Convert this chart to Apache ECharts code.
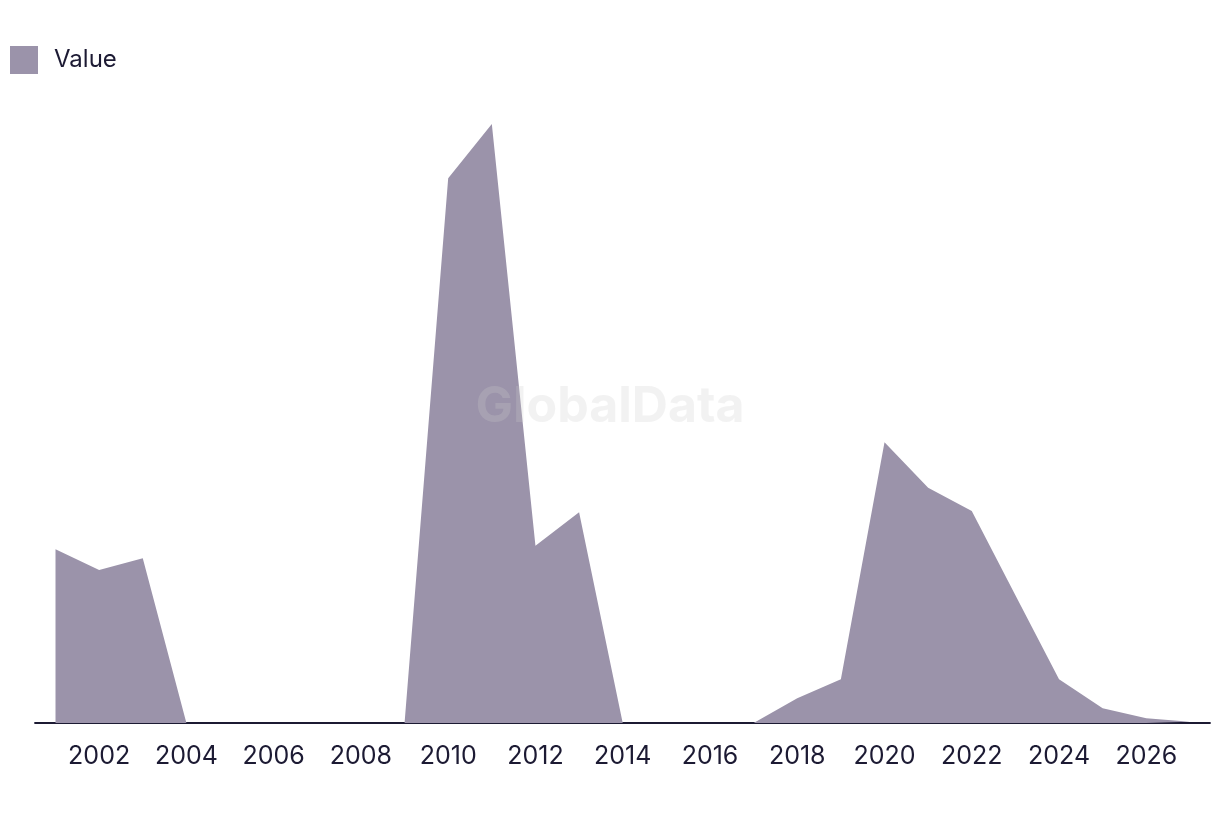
<!DOCTYPE html>
<html>
<head>
<meta charset="utf-8">
<script src="https://cdn.jsdelivr.net/npm/echarts@6/dist/echarts.min.js"></script>
<style>
html,body{margin:0;padding:0;background:#fff;}
#chart{width:1220px;height:816px;}
</style>
</head>
<body>
<div id="chart"></div>
<script>
const years = [2001,2002,2003,2004,2005,2006,2007,2008,2009,2010,2011,2012,2013,2014,2015,2016,2017,2018,2019,2020,2021,2022,2023,2024,2025,2026,2027];
const values = [28.95,25.5,27.45,0,0,0,0,0,0,90.78,99.83,29.55,35.12,0,0,0,0,4.12,7.28,46.78,39.22,35.33,21.3,7.28,2.45,0.78,0.22];
const tickYears = [2002,2004,2006,2008,2010,2012,2014,2016,2018,2020,2022,2024,2026];
const seriesName = 'Value';

const chart = echarts.init(document.getElementById('chart'), null, {renderer:'canvas'});
const textColor = '#1c1a33';
const fontFamily = 'Inter, "Noto Sans", sans-serif';
chart.setOption({
  animation:false,
  backgroundColor:'#ffffff',
  legend:{
    show:true,
    left:5, top:41,
    icon:'rect',
    itemWidth:28, itemHeight:28,
    itemGap:20,
    textStyle:{color:textColor, fontSize:24, fontFamily:fontFamily, padding:[0,0,0,11]},
    data:[seriesName]
  },
  grid:{left:35, right:10, top:123, bottom:93, containLabel:false},
  xAxis:{
    type:'value',
    min:2000.53, max:2027.46,
    splitLine:{show:false},
    axisLine:{show:true, onZero:false, lineStyle:{color:textColor, width:1.8}},
    axisTick:{show:false},
    axisLabel:{
      customValues:tickYears,
      color:textColor, fontSize:25, fontFamily:fontFamily, margin:21,
      formatter:function(v){return String(Math.round(v));}
    }
  },
  yAxis:{
    type:'value', min:0, max:100,
    show:false,
    splitLine:{show:false}
  },
  series:[{
    name:seriesName,
    type:'line',
    data:years.map((y,i)=>[y, values[i]]),
    showSymbol:false,
    symbol:'none',
    lineStyle:{width:0, color:'#9b93aa'},
    itemStyle:{color:'#9b93aa'},
    areaStyle:{color:'#9b93aa', opacity:1},
    z:2
  }],
  graphic:[{
    type:'text',
    left:'center',
    top:382,
    z:100,
    silent:true,
    style:{
      text:'GlobalData',
      font:'bold 50px Inter, "Noto Sans", sans-serif',
      fill:'rgba(205,205,205,0.25)'
    }
  }]
});
</script>
</body>
</html>
